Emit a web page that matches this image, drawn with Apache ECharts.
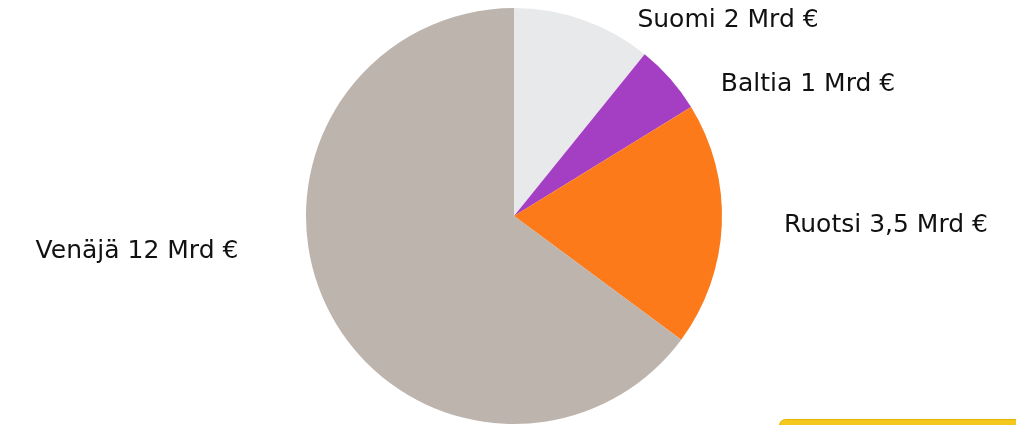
<!DOCTYPE html>
<html>
<head>
<meta charset="utf-8">
<script src="https://cdn.jsdelivr.net/npm/echarts@6/dist/echarts.min.js"></script>
<style>html,body{margin:0;padding:0;background:#fff;}#c{width:1016px;height:425px;}</style>
</head>
<body>
<div id="c"></div>
<script>
const categories = ['Suomi', 'Baltia', 'Ruotsi', 'Venäjä'];
const values = [2, 1, 3.5, 12];
const valueLabels = ['2', '1', '3,5', '12'];
const colors = ['#e8e9ea', '#a43fc3', '#fd7a1a', '#bdb4ae'];
const labelPos = [[728, 20], [808, 84], [886, 225], [137, 251]];

const chart = echarts.init(document.getElementById('c'));
chart.setOption({
  animation: false,
  graphic: [{
    type: 'rect', left: 779, top: 419,
    shape: { width: 250, height: 20, r: 6 },
    style: { fill: '#f5c81e', stroke: '#e3b300', lineWidth: 1 }
  }],
  series: [{
    type: 'pie',
    center: [514, 216],
    radius: 208,
    startAngle: 90,
    clockwise: true,
    data: categories.map((c, i) => ({ name: c, value: values[i], itemStyle: { color: colors[i] } })),
    label: {
      show: true,
      formatter: p => p.name + ' ' + valueLabels[p.dataIndex] + ' Mrd €',
      fontFamily: 'DejaVu Sans',
      fontSize: 25,
      color: '#111'
    },
    labelLine: { show: false },
    labelLayout: p => ({ x: labelPos[p.dataIndex][0], y: labelPos[p.dataIndex][1], align: 'center', verticalAlign: 'middle' })
  }]
});
</script>
</body>
</html>
